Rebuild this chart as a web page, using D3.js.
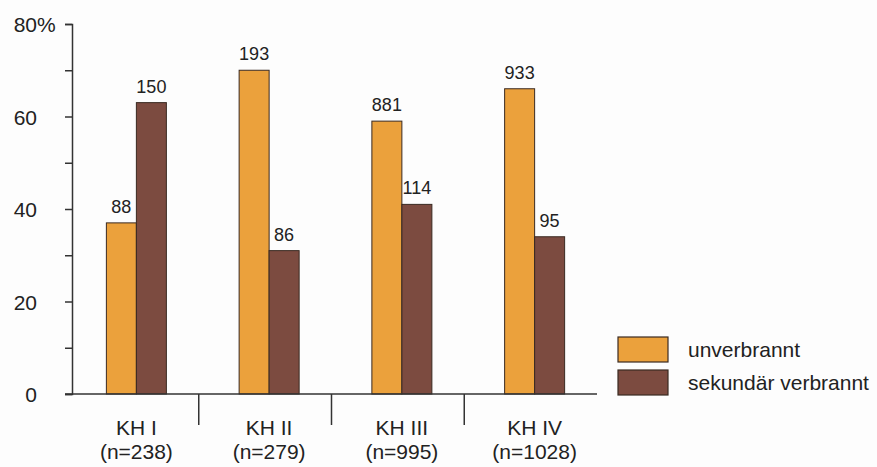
<!DOCTYPE html>
<html>
<head>
<meta charset="utf-8">
<script src="https://cdn.jsdelivr.net/npm/d3@7"></script>
<style>
  body { margin: 0; background: #fdfdfd; }
  svg { display: block; }
</style>
</head>
<body>
<div id="chart"></div>
<script>
const WIDTH = 877;
const HEIGHT = 467;

// Daten (Prozent)
const kategorien = ["KH I", "KH II", "KH III", "KH IV"];
const fallzahlen = ["(n=238)", "(n=279)", "(n=995)", "(n=1028)"];
const unverbrannt = [37, 70, 59, 66];
const unverbranntN = [88, 193, 881, 933];
const sekundaer = [63, 31, 41, 34];
const sekundaerN = [150, 86, 114, 95];
const serien = ["unverbrannt", "sekundär verbrannt"];
const yTicks = [0, 10, 20, 30, 40, 50, 60, 70, 80];

const farben = ["#eba13c", "#7c4b40"];
const FONT = "'Liberation Sans Narrow', 'Liberation Sans', Arial, sans-serif";

const svg = d3.select("#chart")
    .append("svg")
    .attr("width", WIDTH)
    .attr("height", HEIGHT);

const x = d3.scaleBand()
    .domain(kategorien)
    .range([66, 597]);

const y = d3.scaleLinear()
    .domain([0, 80])
    .range([394, 24]);

const barW = 30;
const shift = 4;

const data = kategorien.map((k, i) => ({
    kat: k,
    werte: [
        { s: 0, v: unverbrannt[i], n: unverbranntN[i] },
        { s: 1, v: sekundaer[i], n: sekundaerN[i] }
    ]
}));

// Balken
const gruppen = svg.selectAll(".gruppe")
    .data(data)
    .enter().append("g")
    .attr("class", "gruppe")
    .attr("transform", d => `translate(${x(d.kat) + x.bandwidth() / 2 + shift},0)`);

gruppen.selectAll("rect")
    .data(d => d.werte)
    .enter().append("rect")
    .attr("x", d => d.s === 0 ? -barW : 0)
    .attr("y", d => y(d.v))
    .attr("width", barW)
    .attr("height", d => y(0) - y(d.v))
    .attr("fill", d => farben[d.s])
    .attr("stroke", "#3a2a22")
    .attr("stroke-width", 1);

gruppen.selectAll("text.wert")
    .data(d => d.werte)
    .enter().append("text")
    .attr("class", "wert")
    .attr("x", d => d.s === 0 ? -barW / 2 : barW / 2)
    .attr("y", d => y(d.v) - 10)
    .attr("text-anchor", "middle")
    .style("font-family", FONT)
    .style("font-size", "18px")
    .style("fill", "#222")
    .text(d => d.n);

// y-Achse
const yAxis = svg.append("g")
    .attr("transform", "translate(72,0)")
    .call(d3.axisLeft(y)
        .tickValues(yTicks)
        .tickSize(7)
        .tickPadding(28)
        .tickFormat(d => d % 20 === 0 ? d : ""));

yAxis.select(".domain").attr("stroke", "#333").attr("stroke-width", 1.5);
yAxis.selectAll(".tick line").attr("stroke", "#333").attr("stroke-width", 1.5);
yAxis.selectAll(".tick text")
    .style("font-family", "'Liberation Sans', Arial, sans-serif")
    .style("font-size", "21px")
    .style("fill", "#222")
    .attr("dy", "0.36em");

svg.append("text")
    .attr("x", 37)
    .attr("y", y(80))
    .attr("dy", "0.36em")
    .style("font-family", "'Liberation Sans', Arial, sans-serif")
    .style("font-size", "21px")
    .style("fill", "#222")
    .text("%");

// x-Achse
svg.append("line")
    .attr("x1", 65)
    .attr("x2", 597)
    .attr("y1", y(0))
    .attr("y2", y(0))
    .attr("stroke", "#333")
    .attr("stroke-width", 1.5);

svg.selectAll(".trenner")
    .data(kategorien.slice(1))
    .enter().append("line")
    .attr("class", "trenner")
    .attr("x1", d => x(d))
    .attr("x2", d => x(d))
    .attr("y1", y(0))
    .attr("y2", y(0) + 31)
    .attr("stroke", "#333")
    .attr("stroke-width", 1.5);

const labels = svg.selectAll(".kat")
    .data(kategorien)
    .enter().append("text")
    .attr("class", "kat")
    .attr("text-anchor", "middle")
    .style("font-family", FONT)
    .style("font-size", "21px")
    .style("fill", "#222");

labels.append("tspan")
    .attr("x", d => x(d) + x.bandwidth() / 2 + shift)
    .attr("y", 435)
    .text(d => d);

labels.append("tspan")
    .attr("x", d => x(d) + x.bandwidth() / 2 + shift)
    .attr("y", 459)
    .text((d, i) => fallzahlen[i]);

// Legende
const legende = svg.append("g")
    .attr("transform", "translate(618,337)");

const eintrag = legende.selectAll(".eintrag")
    .data(serien)
    .enter().append("g")
    .attr("class", "eintrag")
    .attr("transform", (d, i) => `translate(0,${i * 33})`);

eintrag.append("rect")
    .attr("width", 50)
    .attr("height", 25)
    .attr("fill", (d, i) => farben[i])
    .attr("stroke", "#3a2a22")
    .attr("stroke-width", 1.2);

eintrag.append("text")
    .attr("x", 70)
    .attr("y", 20)
    .style("font-family", FONT)
    .style("font-size", "21px")
    .style("fill", "#222")
    .text(d => d);
</script>
</body>
</html>
